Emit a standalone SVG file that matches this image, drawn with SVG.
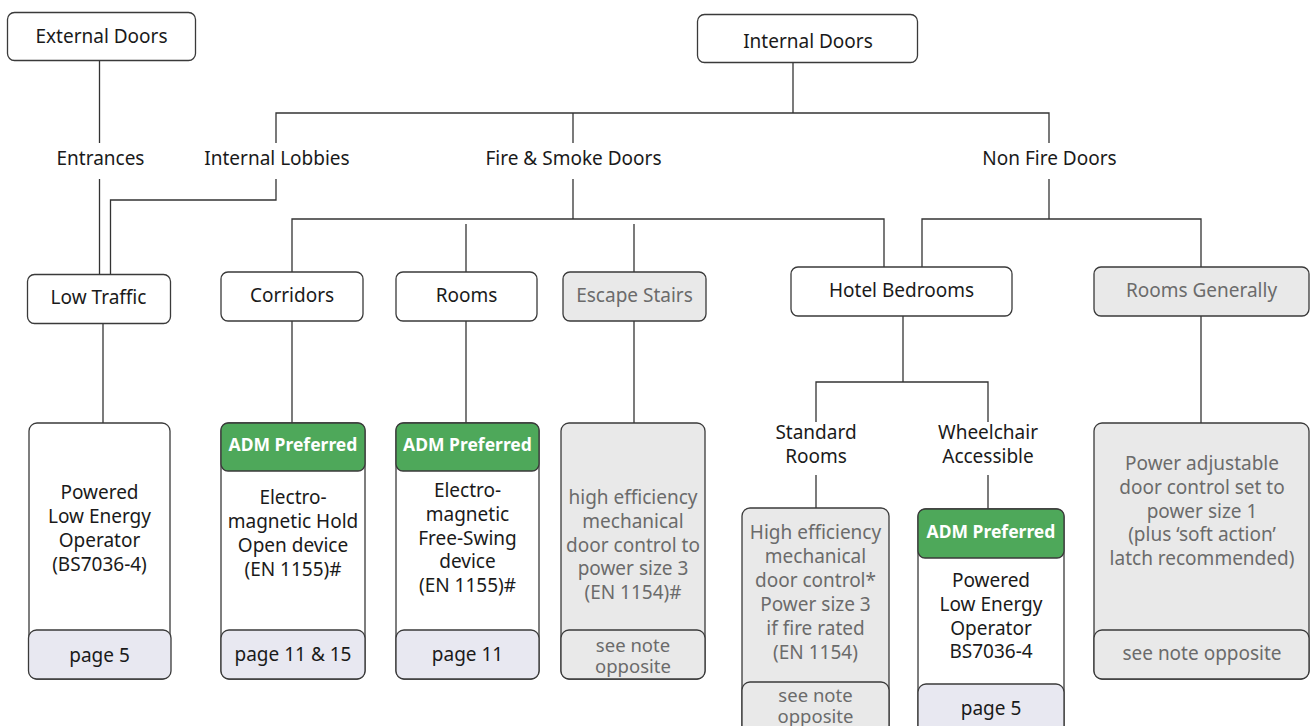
<svg xmlns="http://www.w3.org/2000/svg" width="1311" height="726" viewBox="0 0 1311 726">
<style>
text{font-family:"Noto Sans","Open Sans","DejaVu Sans",sans-serif;font-size:19px;text-anchor:middle;fill:#1a1a1a}
.g text{fill:#6b6b6b}
.box{fill:#ffffff;stroke:#3a3a3a;stroke-width:1.3}
.gbox{fill:#e9e9e9;stroke:#3a3a3a;stroke-width:1.3}
.foot{fill:#e8e8f1;stroke:#3a3a3a;stroke-width:1.3}
.hdr{fill:#4ea85a;stroke:#3a3a3a;stroke-width:1.3}
text.ht{fill:#ffffff;font-weight:bold;font-size:17.5px}
text.ft{font-size:18.5px}
.conn path{fill:none;stroke:#333333;stroke-width:1.3}
</style>
<rect width="1311" height="726" fill="#ffffff"/>
<g class="conn" id="connectors">
<path d="M99.5 60.5V143"/>
<path d="M99.5 179V274"/>
<path d="M276 143V113H1049V143"/>
<path d="M276 179V200H110.5V274"/>
<path d="M793 62.5V113"/>
<path d="M573 113V143"/>
<path d="M573 179V219"/>
<path d="M292 272V219H884V267"/>
<path d="M466 224V272"/>
<path d="M634 224V272"/>
<path d="M1049 179V219"/>
<path d="M922 267V219H1201V267"/>
<path d="M103 323V423"/>
<path d="M292 321V423"/>
<path d="M466 321V423"/>
<path d="M634 321V423"/>
<path d="M903 316V382"/>
<path d="M816 422V382H988V422"/>
<path d="M816 475V508"/>
<path d="M988 475V509"/>
<path d="M1201 316V423"/>
</g>
<g id="external-doors"><rect class="box" x="7.5" y="12.5" width="188" height="48" rx="7"/><text x="101.5" y="43">External Doors</text></g>
<g id="internal-doors"><rect class="box" x="697.5" y="14.5" width="220" height="48" rx="7"/><text x="808" y="48">Internal Doors</text></g>
<g id="entrances"><text x="100.5" y="165">Entrances</text></g>
<g id="internal-lobbies"><text x="277" y="165">Internal Lobbies</text></g>
<g id="fire-smoke-doors"><text x="573.5" y="165">Fire &amp; Smoke Doors</text></g>
<g id="non-fire-doors"><text x="1049.5" y="165">Non Fire Doors</text></g>
<g id="low-traffic"><rect class="box" x="27.5" y="274.5" width="143" height="49" rx="7"/><text x="98.5" y="304">Low Traffic</text></g>
<g id="corridors"><rect class="box" x="221" y="272" width="142" height="49" rx="7"/><text x="292" y="302">Corridors</text></g>
<g id="rooms"><rect class="box" x="396" y="272" width="141" height="49" rx="7"/><text x="466.5" y="302">Rooms</text></g>
<g id="escape-stairs" class="g"><rect class="gbox" x="563" y="272" width="143" height="49" rx="7"/><text x="634.5" y="302">Escape Stairs</text></g>
<g id="hotel-bedrooms"><rect class="box" x="791" y="267" width="221" height="49" rx="7"/><text x="901.5" y="297">Hotel Bedrooms</text></g>
<g id="rooms-generally" class="g"><rect class="gbox" x="1094" y="267" width="215" height="49" rx="7"/><text x="1201.5" y="297">Rooms Generally</text></g>
<g id="standard-rooms"><text x="816" y="439">Standard</text><text x="816" y="463">Rooms</text></g>
<g id="wheelchair-accessible"><text x="988" y="439">Wheelchair</text><text x="988" y="463">Accessible</text></g>
<g id="powered-low-energy-1">
<rect class="box" x="29" y="423" width="141" height="256" rx="8"/>
<rect class="foot" x="28.5" y="630" width="142.5" height="49" rx="8"/>
<text x="99.5" y="499">Powered</text><text x="99.5" y="523">Low Energy</text><text x="99.5" y="547">Operator</text><text x="99.5" y="571">(BS7036-4)</text>
<text x="99.5" y="662">page 5</text>
</g>
<g id="hold-open">
<rect class="box" x="221" y="423" width="144" height="256" rx="8"/>
<rect class="hdr" x="221" y="423" width="144" height="48" rx="7"/>
<text class="ht" x="293" y="451">ADM Preferred</text>
<text x="293" y="504">Electro-</text><text x="293" y="528">magnetic Hold</text><text x="293" y="552">Open device</text><text x="293" y="576">(EN 1155)#</text>
<rect class="foot" x="221" y="630" width="144" height="49" rx="8"/>
<text x="293" y="661">page 11 &amp; 15</text>
</g>
<g id="free-swing">
<rect class="box" x="396" y="423" width="143" height="256" rx="8"/>
<rect class="hdr" x="396" y="423" width="143" height="48" rx="7"/>
<text class="ht" x="467.5" y="451">ADM Preferred</text>
<text x="467.5" y="497">Electro-</text><text x="467.5" y="521">magnetic</text><text x="467.5" y="544.5">Free-Swing</text><text x="467.5" y="568">device</text><text x="467.5" y="592">(EN 1155)#</text>
<rect class="foot" x="396" y="630" width="143" height="49" rx="8"/>
<text x="467.5" y="661">page 11</text>
</g>
<g id="mechanical-stairs" class="g">
<rect class="gbox" x="561" y="423" width="144" height="256" rx="8"/>
<text x="633" y="504">high efficiency</text><text x="633" y="528">mechanical</text><text x="633" y="551.5">door control to</text><text x="633" y="575">power size 3</text><text x="633" y="599">(EN 1154)#</text>
<rect class="gbox" x="561" y="630" width="144" height="49" rx="8"/>
<text class="ft" x="633" y="652">see note</text><text class="ft" x="633" y="673">opposite</text>
</g>
<g id="mechanical-standard" class="g">
<rect class="gbox" x="742" y="508" width="147" height="240" rx="8"/>
<text x="815.5" y="539">High efficiency</text><text x="815.5" y="563">mechanical</text><text x="815.5" y="587">door control*</text><text x="815.5" y="611">Power size 3</text><text x="815.5" y="635">if fire rated</text><text x="815.5" y="659">(EN 1154)</text>
<rect class="gbox" x="742" y="682" width="147" height="66" rx="8"/>
<text class="ft" x="815.5" y="702">see note</text><text class="ft" x="815.5" y="723">opposite</text>
</g>
<g id="powered-low-energy-2">
<rect class="box" x="918" y="509" width="146" height="240" rx="8"/>
<rect class="hdr" x="918" y="509" width="146" height="49" rx="7"/>
<text class="ht" x="991" y="538">ADM Preferred</text>
<text x="991" y="587">Powered</text><text x="991" y="611">Low Energy</text><text x="991" y="634.5">Operator</text><text x="991" y="658">BS7036-4</text>
<rect class="foot" x="918" y="684" width="146" height="65" rx="8"/>
<text x="991" y="715">page 5</text>
</g>
<g id="power-adjustable" class="g">
<rect class="gbox" x="1094" y="423" width="215" height="256" rx="8"/>
<text x="1202" y="470">Power adjustable</text><text x="1202" y="494">door control set to</text><text x="1202" y="517.5">power size 1</text><text x="1202" y="541">(plus ‘soft action’</text><text x="1202" y="565">latch recommended)</text>
<rect class="gbox" x="1094" y="630" width="215" height="49" rx="8"/>
<text x="1202" y="660">see note opposite</text>
</g>
</svg>
